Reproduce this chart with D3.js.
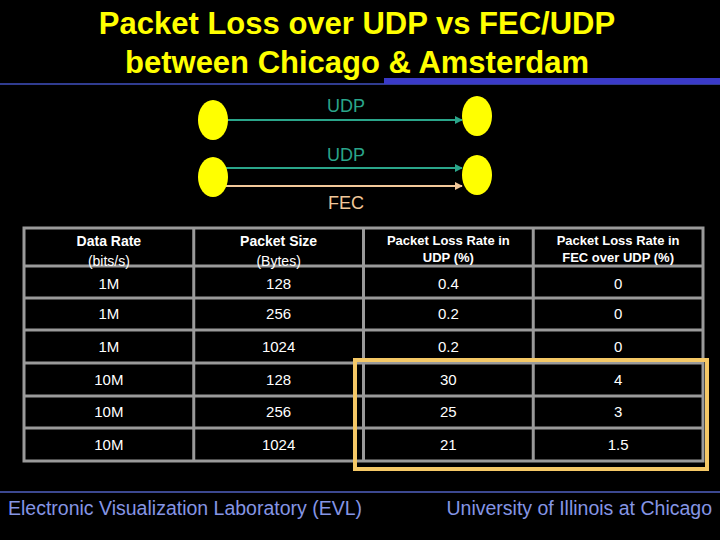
<!DOCTYPE html>
<html><head><meta charset="utf-8">
<script src="https://cdn.jsdelivr.net/npm/d3@7"></script>
<style>body{margin:0;background:#000}</style>
</head><body>
<svg id="c" width="720" height="540"></svg>
<script>
const dataRate = ["1M","1M","1M","10M","10M","10M"];
const packetSize = ["128","256","1024","128","256","1024"];
const lossUDP = ["0.4","0.2","0.2","30","25","21"];
const lossFEC = ["0","0","0","4","3","1.5"];
const headers = [["Data Rate","(bits/s)"],["Packet Size","(Bytes)"],["Packet Loss Rate in","UDP (%)"],["Packet Loss Rate in","FEC over UDP (%)"]];

const svg = d3.select("#c");
svg.append("rect").attr("width",720).attr("height",540).attr("fill","#000");

// title
const title = svg.append("text").attr("text-anchor","middle").attr("fill","#ffff00")
  .attr("font-family","Liberation Sans, Arial").attr("font-weight","bold").attr("font-size",31);
title.append("tspan").attr("x",357).attr("y",34).text("Packet Loss over UDP vs FEC/UDP");
title.append("tspan").attr("x",357).attr("y",73).text("between Chicago & Amsterdam");
svg.append("line").attr("x1",0).attr("x2",720).attr("y1",84).attr("y2",84).attr("stroke","#4050c0").attr("stroke-width",1.5);
svg.append("rect").attr("x",384).attr("y",78).attr("width",336).attr("height",6).attr("fill","#3a3ac8");

// diagram
const defs = svg.append("defs");
[["t","#2aa58a"],["o","#f2c89a"]].forEach(([id,c])=>{
  defs.append("marker").attr("id",id).attr("viewBox","0 0 10 10").attr("refX",9).attr("refY",5)
    .attr("markerWidth",4).attr("markerHeight",4).attr("orient","auto")
    .append("path").attr("d","M0,0L10,5L0,10z").attr("fill",c);
});
const arrows = [[120,"#2aa58a","t"],[168,"#2aa58a","t"],[186,"#f2c89a","o"]];
arrows.forEach(([y,c,m])=>svg.append("line").attr("x1",226).attr("x2",462).attr("y1",y).attr("y2",y)
  .attr("stroke",c).attr("stroke-width",2).attr("marker-end",`url(#${m})`));
[[213,120],[477,116],[213,177],[477,175]].forEach(([x,y])=>svg.append("ellipse")
  .attr("cx",x).attr("cy",y).attr("rx",15).attr("ry",20).attr("fill","#ffff00"));
[["UDP",112,"#2aa58a"],["UDP",161,"#2aa58a"],["FEC",209,"#f2c89a"]].forEach(([t,y,c])=>
  svg.append("text").attr("x",346).attr("y",y).attr("text-anchor","middle").attr("fill",c)
    .attr("font-family","Liberation Sans, Arial").attr("font-size",18).text(t));

// table
const cols = d3.scaleBand().domain(d3.range(4)).range([24,703]);
const rowEdges = [228,266,298,330,363,396,428,461];
const grid = "#9a9a9a";
svg.append("rect").attr("x",24).attr("y",228).attr("width",679).attr("height",233)
  .attr("fill","none").attr("stroke",grid).attr("stroke-width",3);
d3.range(1,4).forEach(i=>svg.append("line").attr("x1",cols(i)).attr("x2",cols(i)).attr("y1",228).attr("y2",461)
  .attr("stroke",grid).attr("stroke-width",3));
rowEdges.slice(1,-1).forEach(y=>svg.append("line").attr("x1",24).attr("x2",703).attr("y1",y).attr("y2",y)
  .attr("stroke",grid).attr("stroke-width",3));
const cx = i=>cols(i)+cols.bandwidth()/2;
headers.forEach((h,i)=>{
  const small = i<2;
  svg.append("text").attr("x",cx(i)).attr("y",small?246:245).attr("text-anchor","middle").attr("fill","#fff")
    .attr("font-family","Liberation Sans, Arial").attr("font-weight","bold").attr("font-size",small?14:13).text(h[0]);
  svg.append("text").attr("x",cx(i)).attr("y",small?266:262).attr("text-anchor","middle").attr("fill","#fff")
    .attr("font-family","Liberation Sans, Arial").attr("font-weight",small?"normal":"bold").attr("font-size",small?14:13).text(h[1]);
});
const rows = d3.range(dataRate.length).map(i=>[dataRate[i],packetSize[i],lossUDP[i],lossFEC[i]]);
rows.forEach((r,j)=>{
  const yc = j===0 ? 289 : (rowEdges[j+1]+rowEdges[j+2])/2 + 5;
  r.forEach((v,i)=>svg.append("text").attr("x",cx(i)).attr("y",yc).attr("text-anchor","middle").attr("fill","#fff")
    .attr("font-family","Liberation Sans, Arial").attr("font-size",15).text(v));
});
svg.append("rect").attr("x",355).attr("y",360).attr("width",352).attr("height",109)
  .attr("fill","none").attr("stroke","#f5c866").attr("stroke-width",4);

// footer
svg.append("line").attr("x1",0).attr("x2",720).attr("y1",492).attr("y2",492).attr("stroke","#5060c0").attr("stroke-width",1.5);
svg.append("text").attr("x",8).attr("y",515).attr("fill","#8595e5").attr("font-family","Liberation Sans, Arial")
  .attr("font-size",19.5).text("Electronic Visualization Laboratory (EVL)");
svg.append("text").attr("x",712).attr("y",515).attr("text-anchor","end").attr("fill","#8595e5").attr("font-family","Liberation Sans, Arial")
  .attr("font-size",19.5).text("University of Illinois at Chicago");
</script>
</body></html>
